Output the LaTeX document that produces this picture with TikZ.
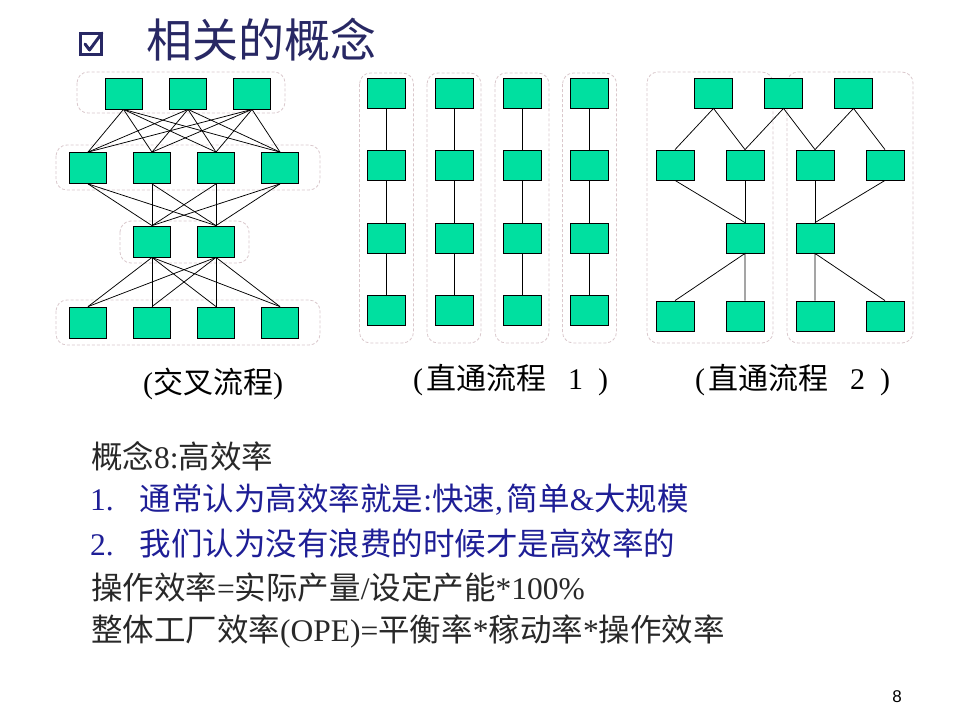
\documentclass[tikz,border=0pt]{standalone}
\usepackage{fontspec}
\setmainfont{Noto Sans CJK SC}
\newfontfamily\numfont{Liberation Sans}
\newfontfamily\latf{Liberation Serif}
\newcommand{\lfnt}[1]{{\latf #1}}
\definecolor{mint}{RGB}{0,224,160}
\definecolor{grp}{RGB}{218,200,204}
\definecolor{navy}{RGB}{40,40,100}
\definecolor{bluetxt}{RGB}{30,30,150}
\definecolor{darktxt}{RGB}{40,40,40}
\tikzset{
  bx/.style={draw=black,fill=mint,line width=0.8pt,minimum width=37pt,minimum height=31pt,inner sep=0pt},
  grpbox/.style={draw=grp,dashed,dash pattern=on 3pt off 2pt,line width=0.8pt,rounded corners=11pt},
  edge/.style={draw=black,line width=0.75pt},
  lbl/.style={anchor=west,font=\fontsize{30}{33}\selectfont,text=black,inner sep=0pt},
  txt/.style={anchor=west,inner sep=0pt,font=\fontsize{31.5}{34}\selectfont}
}
\begin{document}
\begin{tikzpicture}[x=1pt,y=-1pt]
\useasboundingbox (0,0) rectangle (960,720);
\fill[white] (0,0) rectangle (960,720);
% title with checkbox
\node[draw=navy,line width=2.6pt,minimum size=21pt,inner sep=0pt] (chk) at (91,44) {};
\draw[navy,line width=3pt,line cap=round,line join=round] ([shift={(-6,0)}]chk.center) -- ([shift={(-1.5,6)}]chk.center) -- ([shift={(11,-11)}]chk.center);
\node[inner sep=0pt,anchor=west,text=navy,font=\fontsize{46}{50}\selectfont] (title) at (146,40) {相关的概念};
% ---------- left: cross flow ----------
\draw[grpbox] (77,72) rectangle (285,113);
\draw[grpbox] (56,145) rectangle (320,190);
\draw[grpbox] (120,221) rectangle (249,263);
\draw[grpbox] (56,300) rectangle (320,345);
\foreach \n/\x in {1/123.5,2/188,3/252} \node[bx] (La\n) at (\x,93.5) {};
\foreach \n/\x in {1/88,2/152,3/216,4/280} \node[bx] (Lb\n) at (\x,168) {};
\foreach \n/\x in {1/152,2/216} \node[bx] (Lc\n) at (\x,241.5) {};
\foreach \n/\x in {1/88,2/152,3/216,4/280} \node[bx] (Ld\n) at (\x,322.5) {};
\foreach \i in {1,2,3} \foreach \j in {1,2,3,4} \draw[edge] (La\i.south) -- (Lb\j.north);
\foreach \i in {1,2,3,4} \foreach \j in {1,2} \draw[edge] (Lb\i.south) -- (Lc\j.north);
\foreach \i in {1,2} \foreach \j in {1,2,3,4} \draw[edge] (Lc\i.south) -- (Ld\j.north);
% ---------- middle: straight flow 1 ----------
\foreach \c/\x in {1/386.5,2/454,3/522,4/589.5}{
  \draw[grpbox] (\x-27,73) rectangle (\x+27,343);
  \foreach \r/\y in {1/93,2/165,3/238,4/310} \node[bx,minimum width=38pt,minimum height=30pt] (M\c\r) at (\x,\y) {};
  \draw[edge] (M\c1) -- (M\c2) -- (M\c3) -- (M\c4);
}
% ---------- right: straight flow 2 ----------
\draw[grpbox] (647,72) rectangle (773,343);
\draw[grpbox] (787,72) rectangle (913,343);
\tikzset{rb/.style={bx,minimum width=38pt,minimum height=30pt}}
\foreach \n/\x in {1/713.5,2/783.5,3/853.5} \node[rb] (Ra\n) at (\x,93) {};
\foreach \n/\x in {1/675,2/745,3/815,4/885} \node[rb] (Rb\n) at (\x,165) {};
\foreach \n/\x in {1/745,2/815} \node[rb] (Rc\n) at (\x,238) {};
\foreach \n/\x in {1/675,2/745,3/815,4/885} \node[rb] (Rd\n) at (\x,316) {};
\draw[edge] (Rb1.north) -- (Ra1.south) -- (Rb2.north);
\draw[edge] (Rb2.north) -- (Ra2.south) -- (Rb3.north);
\draw[edge] (Rb3.north) -- (Ra3.south) -- (Rb4.north);
\draw[edge] (Rb1.south) -- (Rc1.north);
\draw[edge] (Rb2.south) -- (Rc1.north);
\draw[edge] (Rb3.south) -- (Rc2.north);
\draw[edge] (Rb4.south) -- (Rc2.north);
\draw[edge] (Rd1.north) -- (Rc1.south) -- (Rd2.north);
\draw[edge] (Rd3.north) -- (Rc2.south) -- (Rd4.north);
% labels
\node[lbl] (lab1) at (143,384) {\lfnt{(}交叉流程\lfnt{)}};
\node[lbl] (lab2) at (413,380) {\lfnt{(}\hspace{3pt}直通流程\hspace{22pt}\lfnt{1}\hspace{15pt}\lfnt{)}};
\node[lbl] (lab3) at (695,380) {\lfnt{(}\hspace{3pt}直通流程\hspace{22pt}\lfnt{2}\hspace{15pt}\lfnt{)}};
% text block
\node[txt,text=darktxt] (t1) at (91,456) {概念\lfnt{8:}高效率};
\node[txt,text=bluetxt] (t2) at (90,500) {\lfnt{1.}\hspace{26pt}通常认为高效率就是\lfnt{:}快速\lfnt{,}\hspace{4pt}简单\lfnt{\&}大规模};
\node[txt,text=bluetxt] (t3) at (90,544) {\lfnt{2.}\hspace{26pt}我们认为没有浪费的时候才是高效率的};
\node[txt,text=darktxt] (t4) at (91,588) {操作效率\lfnt{=}实际产量\lfnt{/}设定产能\lfnt{*100\%}};
\node[txt,text=darktxt] (t5) at (91,632) {整体工厂效率\lfnt{(OPE)=}平衡率\lfnt{*}稼动率\lfnt{*}操作效率};
\node[inner sep=0pt,font=\numfont\fontsize{17}{19}\selectfont] (pg) at (897,697) {8};
\end{tikzpicture}
\end{document}
